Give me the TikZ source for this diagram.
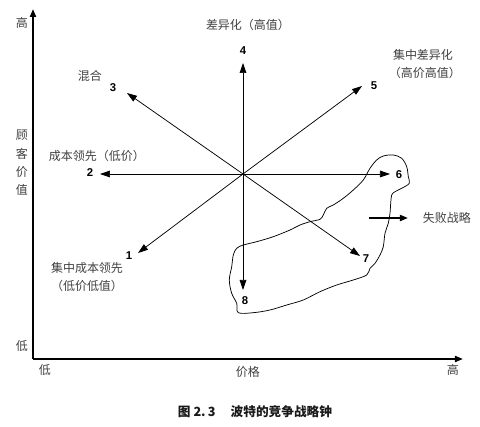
\documentclass[tikz,border=0pt]{standalone}
\usepackage{fontspec}
\setmainfont{Liberation Sans}
\newfontfamily\cjk{Noto Sans CJK SC}
\usetikzlibrary{arrows.meta}
\begin{document}
\begin{tikzpicture}[x=0.75pt,y=-0.75pt,
  lbl/.style={font=\cjk\fontsize{9}{11}\selectfont, text=black!75, inner sep=0pt},
  captxt/.style={font=\cjk\bfseries\fontsize{9.5}{11}\selectfont, text=black!90, inner sep=0pt},
  num/.style={font=\bfseries\fontsize{8.5}{10}\selectfont, inner sep=0pt},
  spoke/.style={-{Triangle[length=7.5pt,width=5pt]}, line width=0.55pt},
  axis/.style={-{Triangle[length=6pt,width=4.5pt]}, line width=1.4pt},
  failarrow/.style={-{Triangle[length=6pt,width=4.5pt]}, line width=1.4pt},
  blob/.style={line width=0.55pt}]
\useasboundingbox (0,0) rectangle (480,427);

% axes
\coordinate (org) at (33,359);
\coordinate (ytop) at (33,9);
\coordinate (xend) at (463,359);
\draw[axis] (org) -- (ytop);
\draw[axis] (org) -- (xend);

% axis labels
\node[lbl] (yhi) at (22,23) {高};
\node[lbl] (ylo) at (22,346) {低};
\node[lbl] (yv1) at (22,135) {顾};
\node[lbl] (yv2) at (22,154) {客};
\node[lbl] (yv3) at (22,172) {价};
\node[lbl] (yv4) at (22,190) {值};
\node[lbl] (xlo) at (45,370) {低};
\node[lbl] (xmid) at (248,372) {价格};
\node[lbl] (xhi) at (453,370) {高};

% failure region
\draw[blob] plot[smooth cycle, tension=0.55] coordinates {
 (376.7,160) (383.3,156) (393.3,155) (401.7,158.3) (406.7,166.7) (408.3,176.7)
 (409.3,183.3) (401.7,188.3) (395,191.7) (391.7,195) (390.7,203.3) (390,213.3)
 (388.3,223.3) (385,233.3) (383.3,246.7) (380,255) (375,263.3) (370,268.3)
 (366.7,275) (353.3,280) (336.7,285) (320,291.7) (303.3,300) (286.7,305)
 (270,310) (253.3,312.7) (238.3,312.7) (236.7,303.3) (231.7,293.3) (229.3,280)
 (231.7,266.7) (233.3,255) (236.7,248.3) (243.3,245) (256.7,241.7) (273.3,236.7)
 (290,230) (300,225) (310,221.7) (320,219.3) (323.3,215) (326.7,208.3)
 (333.3,205) (343.3,198.3) (353.3,190) (363.3,180) (370,168.3)};

% clock spokes
\coordinate (o) at (243,174);
\coordinate (t1) at (138,253);
\coordinate (t2) at (100,174);
\coordinate (t3) at (127,93);
\coordinate (t4) at (243,63);
\coordinate (t5) at (362,86);
\coordinate (t6) at (390,174);
\coordinate (t7) at (360,256);
\coordinate (t8) at (243,290);
\foreach \i in {1,...,8} { \draw[spoke] (o) -- (t\i); }

% numbers
\node[num] (n1) at (129,256) {1};
\node[num] (n2) at (90,173) {2};
\node[num] (n3) at (113,88) {3};
\node[num] (n4) at (243,51) {4};
\node[num] (n5) at (374,86) {5};
\node[num] (n6) at (399,175) {6};
\node[num] (n7) at (366,259) {7};
\node[num] (n8) at (245,301) {8};

% strategy labels
\node[lbl] (mix) at (90,76) {混合};
\node[lbl] (cost) at (97,156) {成本领先（低价）};
\node[lbl] (diff) at (248,25) {差异化（高值）};
\node[lbl] (fdiff) at (423,55) {集中差异化};
\node[lbl] (fdiff2) at (425,73) {（高价高值）};
\node[lbl] (fcost) at (87,268) {集中成本领先};
\node[lbl] (fcost2) at (87,286) {（低价低值）};
\node[lbl] (failtxt) at (447,218) {失败战略};
\coordinate (fa) at (369,218);
\coordinate (fb) at (408,218);
\draw[failarrow] (fa) -- (fb);

% caption
\node[captxt] (caption) at (255,412) {图 2.\,3\hspace{1.2em}波特的竞争战略钟};
\end{tikzpicture}
\end{document}
